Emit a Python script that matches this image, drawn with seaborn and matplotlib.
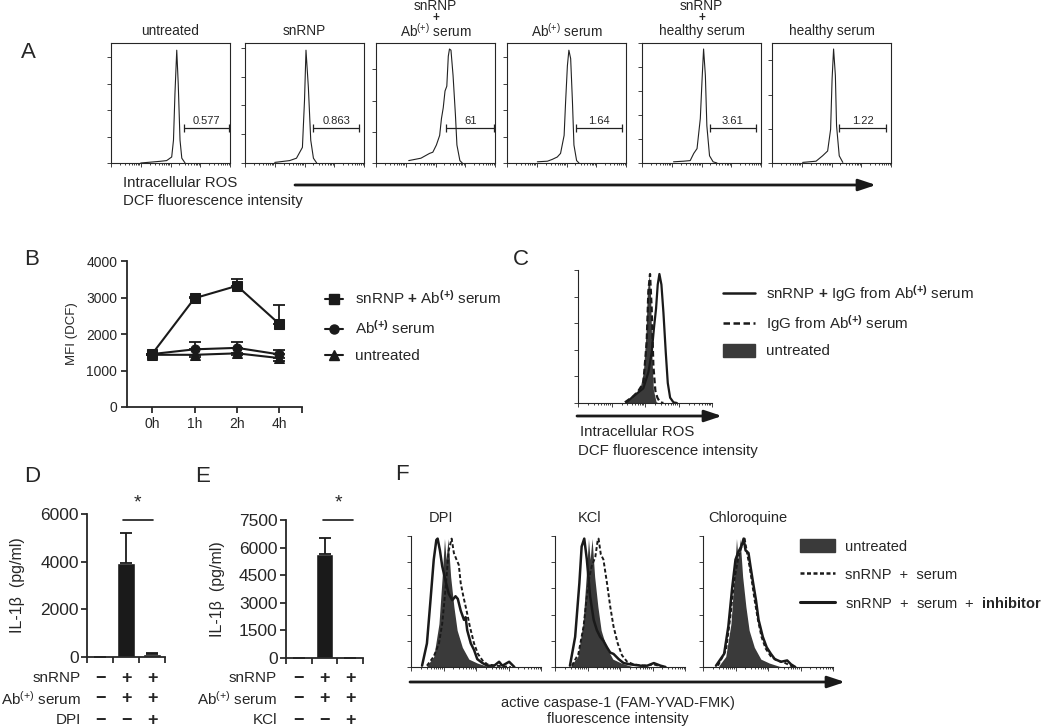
import matplotlib
matplotlib.use("Agg")
import matplotlib.pyplot as plt
import matplotlib.patches as mpatches
import matplotlib.ticker as mticker
from matplotlib.lines import Line2D
from matplotlib.transforms import blended_transform_factory
import seaborn as sns
import numpy as np

W, H = 1050, 728

# ---- A: DCF histograms (x = log decades, y = % of box height) ----
a_titles = [["untreated"], ["snRNP"], ["snRNP", "+", "Ab$^{(+)}$ serum"],
            ["Ab$^{(+)}$ serum"], ["snRNP", "+", "healthy serum"], ["healthy serum"]]
a_gate_pct = ["0.577", "0.863", "61", "1.64", "3.61", "1.22"]
a_gate_start = [2.44, 2.30, 2.35, 2.31, 2.27, 2.26]
a_gate_end = [3.95, 3.83, 3.98, 3.85, 3.82, 3.83]

a1_x = [1.0, 1.65, 1.87, 2.04, 2.10, 2.15, 2.21, 2.26, 2.32, 2.38, 2.49]
a1_y = [0, 1.4, 2, 5, 19, 58, 94, 66, 19, 4, 0]
a2_x = [1.0, 1.50, 1.73, 1.93, 2.00, 2.05, 2.13, 2.21, 2.30, 2.41]
a2_y = [0.5, 2, 4, 13, 52, 94, 63, 19, 4, 0]
a3_x = [1.10, 1.51, 1.80, 1.91, 2.03, 2.14, 2.20, 2.26, 2.32, 2.38, 2.43, 2.47, 2.52, 2.59, 2.67, 2.72, 2.82, 2.90]
a3_y = [2, 4, 8, 9, 15, 23, 37, 46, 60, 64, 89, 95, 94, 73, 40, 15, 2, 0]
a4_x = [1.02, 1.36, 1.52, 1.69, 1.80, 1.92, 1.97, 2.03, 2.08, 2.14, 2.20, 2.25, 2.34, 2.42]
a4_y = [1, 1.5, 3, 5, 8, 23, 51, 81, 94, 87, 51, 15, 2, 0]
a5_x = [1.06, 1.40, 1.62, 1.74, 1.85, 1.96, 2.02, 2.07, 2.13, 2.18, 2.27, 2.39, 2.52]
a5_y = [1, 1.5, 2, 8, 12, 37, 70, 95, 73, 31, 6, 1, 0]
a6_x = [1.03, 1.48, 1.70, 1.87, 1.97, 2.02, 2.07, 2.13, 2.17, 2.26, 2.38]
a6_y = [0.5, 1.5, 6, 10, 28, 70, 95, 73, 31, 6, 0.5]

# ---- B: MFI time course ----
b_times = ["0h", "1h", "2h", "4h"]
b_snrnp_ab = [1450, 2980, 3320, 2270]
b_snrnp_ab_err = [0, 40, 200, 520]
b_ab = [1450, 1580, 1620, 1440]
b_ab_err = [0, 200, 170, 120]
b_untreated = [1430, 1430, 1470, 1340]
b_untreated_err = [0, 60, 50, 70]

# ---- C: IgG histograms ----
c_untreated_x = [1.45, 1.60, 1.75, 1.85, 1.95, 2.03, 2.07, 2.12, 2.17, 2.21, 2.25, 2.33, 2.40]
c_untreated_y = [0.5, 4, 8, 11, 23, 53, 84, 97, 79, 33, 10, 1, 0]
c_igg_x = [1.40, 1.65, 1.80, 1.95, 2.05, 2.10, 2.15, 2.20, 2.25, 2.31, 2.37, 2.45, 2.55]
c_igg_y = [0.5, 5, 9, 15, 46, 84, 97, 71, 28, 9, 4, 0.5, 0]
c_snrnp_igg_x = [1.45, 1.65, 1.80, 1.95, 2.10, 2.20, 2.27, 2.33, 2.38, 2.43, 2.49, 2.55, 2.62, 2.68, 2.75, 2.85, 2.95]
c_snrnp_igg_y = [0.5, 5, 8, 11, 23, 38, 57, 71, 89, 97, 89, 68, 38, 15, 4, 0.5, 0]

# ---- D / E: IL-1beta ----
d_groups = ["none", "snRNP+Ab", "snRNP+Ab+DPI"]
d_il1b = [0, 3950, 120]
d_il1b_err = [0, 1250, 40]
d_rows = ["snRNP", "Ab$^{(+)}$ serum", "DPI"]
d_signs = [["−", "+", "+"], ["−", "+", "+"], ["−", "−", "+"]]
e_groups = ["none", "snRNP+Ab", "snRNP+Ab+KCl"]
e_il1b = [0, 5650, 20]
e_il1b_err = [0, 850, 0]
e_rows = ["snRNP", "Ab$^{(+)}$ serum", "KCl"]
e_signs = [["−", "+", "+"], ["−", "+", "+"], ["−", "−", "+"]]

# ---- F: caspase-1 histograms ----
f_titles = ["DPI", "KCl", "Chloroquine"]
f_untreated_x = [0.49, 0.70, 0.86, 0.96, 1.03, 1.08, 1.14, 1.22, 1.32, 1.42, 1.58, 1.78, 2.04, 2.35, 2.56]
f_untreated_y = [1, 8, 33, 69, 98, 82, 98, 69, 46, 28, 15, 6, 3, 0.5, 0]
f_dpi_serum_x = [0.49, 0.70, 0.86, 0.96, 1.06, 1.11, 1.16, 1.25, 1.32, 1.40, 1.47, 1.53, 1.61, 1.71, 1.81, 1.94, 2.06, 2.20, 2.35, 2.61, 2.87, 3.07]
f_dpi_serum_y = [1, 8, 18, 33, 59, 74, 89, 98, 87, 82, 78, 64, 54, 43, 31, 18, 10, 5, 2, 1, 0.5, 0]
f_dpi_inhib_x = [0.34, 0.49, 0.60, 0.70, 0.78, 0.82, 0.89, 0.96, 1.06, 1.16, 1.27, 1.37, 1.44, 1.53, 1.63, 1.68, 1.73, 1.84, 1.94, 2.04, 2.20, 2.35, 2.56, 2.71, 2.81, 3.02, 3.18]
f_dpi_inhib_y = [1, 18, 51, 82, 97, 98, 89, 77, 66, 56, 51, 54, 52, 43, 36, 38, 28, 18, 13, 6, 3, 1, 1, 4, 1, 4, 0]
f_kcl_serum_x = [0.52, 0.72, 0.88, 0.98, 1.06, 1.13, 1.24, 1.31, 1.34, 1.41, 1.49, 1.60, 1.70, 1.80, 1.93, 2.06, 2.22, 2.42, 2.73, 3.04, 3.25, 3.35]
f_kcl_serum_y = [1, 10, 31, 54, 69, 77, 84, 96, 98, 86, 82, 64, 46, 31, 18, 9, 4, 2, 1, 2, 0.5, 0]
f_kcl_inhib_x = [0.46, 0.62, 0.75, 0.82, 0.90, 0.98, 1.08, 1.19, 1.29, 1.39, 1.49, 1.60, 1.70, 1.80, 1.96, 2.11, 2.32, 2.63, 2.84, 3.04, 3.25, 3.40]
f_kcl_inhib_y = [1, 23, 64, 92, 98, 82, 54, 36, 28, 23, 20, 15, 11, 10, 6, 3, 2, 1, 1, 3, 1, 0]
f_chl_serum_x = [0.46, 0.71, 0.84, 0.96, 1.09, 1.19, 1.28, 1.35, 1.43, 1.50, 1.59, 1.69, 1.80, 1.93, 2.09, 2.28, 2.53, 2.78]
f_chl_serum_y = [1, 13, 38, 66, 84, 92, 98, 88, 77, 66, 51, 36, 23, 14, 8, 5, 3, 0]
f_chl_inhib_x = [0.40, 0.65, 0.78, 0.90, 1.00, 1.09, 1.18, 1.25, 1.31, 1.40, 1.46, 1.53, 1.63, 1.71, 1.84, 1.96, 2.09, 2.21, 2.40, 2.59, 2.71, 2.84]
f_chl_inhib_y = [1, 10, 31, 61, 82, 88, 92, 98, 89, 87, 77, 66, 51, 36, 23, 15, 10, 6, 4, 5, 2, 0]

sns.set_theme(style="ticks")
plt.rcParams["font.family"] = ["Liberation Sans", "DejaVu Sans"]
plt.rcParams["mathtext.fontset"] = "custom"
plt.rcParams["mathtext.rm"] = "Liberation Sans"
plt.rcParams["mathtext.bf"] = "Liberation Sans:bold"
plt.rcParams["mathtext.it"] = "Liberation Sans:italic"

fig = plt.figure(figsize=(W / 100, H / 100), dpi=100)
DARK = "#3a3a3a"


def rect(x0, y0, x1, y1):
    return [x0 / W, 1 - y1 / H, (x1 - x0) / W, (y1 - y0) / H]


def ftext(x, y, s, **kw):
    kw.setdefault("ha", "center")
    kw.setdefault("va", "center")
    fig.text(x / W, 1 - y / H, s, **kw)


def arrow(x0, x1, y):
    fig.add_artist(mpatches.FancyArrowPatch(
        (x0 / W, 1 - y / H), (x1 / W, 1 - y / H), transform=fig.transFigure,
        arrowstyle="-|>,head_length=0.75,head_width=0.25", mutation_scale=14,
        lw=2.0, color="k", shrinkA=0, shrinkB=0))


log_minor = [d + np.log10(k) for d in range(4) for k in range(2, 10)]


def flow_axes(ax, ystep, box):
    ax.set_xlim(0, 4)
    ax.set_ylim(0, 100)
    ax.xaxis.set_major_locator(mticker.FixedLocator(range(5)))
    ax.xaxis.set_minor_locator(mticker.FixedLocator(log_minor))
    ax.yaxis.set_major_locator(mticker.MultipleLocator(ystep))
    ax.tick_params(which="both", direction="out", width=0.6, color="#222",
                   labelbottom=False, labelleft=False)
    ax.tick_params(which="major", length=3)
    ax.tick_params(which="minor", length=1.6)
    ax.set_xlabel("")
    ax.set_ylabel("")
    for s in ax.spines.values():
        s.set_linewidth(0.8)
    if not box:
        ax.spines[["top", "right"]].set_visible(False)


# ================= A =================
a_lefts = [111, 245, 376, 507, 642, 772]
a_steps = [22, 24, 26, 22, 20, 28.5]
a_xs = [a1_x, a2_x, a3_x, a4_x, a5_x, a6_x]
a_ys = [a1_y, a2_y, a3_y, a4_y, a5_y, a6_y]
for i, left in enumerate(a_lefts):
    ax = fig.add_axes(rect(left, 43, left + 119, 163))
    sns.lineplot(x=a_xs[i], y=a_ys[i], ax=ax, color="#222", lw=0.8, sort=False, estimator=None)
    ax.plot([a_gate_start[i], a_gate_end[i]], [29, 29], color="#222", lw=0.9)
    ax.plot([a_gate_start[i], a_gate_end[i]], [29, 29], ls="none", marker="|", ms=6, mew=0.9, color="#222")
    ax.text((a_gate_start[i] + a_gate_end[i]) / 2, 31, a_gate_pct[i], ha="center", va="bottom", fontsize=8)
    flow_axes(ax, a_steps[i], True)
    cx = left + 59.5
    lines = a_titles[i]
    if len(lines) == 1:
        ftext(cx, 31, lines[0], fontsize=9.8)
    else:
        ftext(cx, 5.5, lines[0], fontsize=9.8)
        ftext(cx, 17.5, lines[1], fontsize=8.5, fontweight="bold")
        ftext(cx, 31, lines[2], fontsize=9.8)

ftext(28, 53, "A", fontsize=16)
ftext(123, 183, "Intracellular ROS", ha="left", fontsize=10.8)
ftext(123, 201, "DCF fluorescence intensity", ha="left", fontsize=10.8)
arrow(295, 876, 185)

# ================= B =================
ax = fig.add_axes(rect(127, 261, 302, 407))
pos = np.arange(len(b_times))
b_series = [(b_snrnp_ab, b_snrnp_ab_err, "s", 7, 1), (b_ab, b_ab_err, "o", 6.5, 1), (b_untreated, b_untreated_err, "^", 6.5, -1)]
for vals, err, mk, ms, sign in b_series:
    zeros = [0] * len(err)
    yerr = [zeros, err] if sign > 0 else [err, zeros]
    ax.errorbar(pos, vals, yerr=yerr, fmt="none", ecolor="k", elinewidth=1.3, capsize=4, capthick=1.3, zorder=2)
    sns.lineplot(x=pos, y=vals, ax=ax, color="k", lw=1.5, marker=mk, markersize=ms,
                 markeredgecolor="k", zorder=3)
ax.set_xlim(-0.59, 3.53)
ax.set_ylim(0, 4000)
ax.set_xticks(pos)
ax.set_xticklabels(b_times)
ax.xaxis.set_minor_locator(mticker.FixedLocator([3.53]))
ax.set_yticks([0, 1000, 2000, 3000, 4000])
ax.tick_params(which="both", direction="out", length=4, width=1.2, labelsize=10, pad=3, color="k")
sns.despine(ax=ax)
for s in ["left", "bottom"]:
    ax.spines[s].set_linewidth(1.3)
ax.set_xlabel("")
ax.set_ylabel("MFI (DCF)", fontsize=9.5, labelpad=6)

b_handles = [Line2D([], [], color="k", lw=1.5, marker="s", ms=7),
             Line2D([], [], color="k", lw=1.5, marker="o", ms=6.5),
             Line2D([], [], color="k", lw=1.5, marker="^", ms=6.5)]
b_labels = [r"snRNP $\mathbf{+}$ Ab$^{\mathbf{(+)}}$ serum", r"Ab$^{\mathbf{(+)}}$ serum", "untreated"]
fig.legend(b_handles, b_labels, loc="upper left", bbox_to_anchor=(325 / W, 1 - 289 / H),
           frameon=False, fontsize=11, handlelength=1.2, handletextpad=0.75,
           labelspacing=0.8, borderpad=0, borderaxespad=0)
ftext(32, 259, "B", fontsize=16)

# ================= C =================
ax = fig.add_axes(rect(578, 270, 712, 403))
ax.fill_between(c_untreated_x, c_untreated_y, color=DARK, lw=0)
sns.lineplot(x=c_igg_x, y=c_igg_y, ax=ax, color="k", lw=1.6, sort=False, estimator=None, dashes=False)
ax.lines[-1].set_dashes((2.6, 1.4))
sns.lineplot(x=c_snrnp_igg_x, y=c_snrnp_igg_y, ax=ax, color="k", lw=1.6, sort=False, estimator=None)
flow_axes(ax, 20, False)
arrow(577, 722, 416)
ftext(580, 432, "Intracellular ROS", ha="left", fontsize=10.8)
ftext(578, 451, "DCF fluorescence intensity", ha="left", fontsize=10.8)
c_handles = [Line2D([], [], color="k", lw=1.8),
             Line2D([], [], color="k", lw=1.8, dashes=(2.6, 1.4)),
             mpatches.Patch(color=DARK)]
c_labels = [r"snRNP $\mathbf{+}$ IgG from Ab$^{\mathbf{(+)}}$ serum", r"IgG from Ab$^{\mathbf{(+)}}$ serum", "untreated"]
fig.legend(c_handles, c_labels, loc="upper left", bbox_to_anchor=(723 / W, 1 - 283 / H),
           frameon=False, fontsize=10.9, handlelength=2.1, handleheight=0.95, handletextpad=0.75,
           labelspacing=0.62, borderpad=0, borderaxespad=0)
ftext(521, 259, "C", fontsize=16)


# ================= D / E =================
def il1b_panel(rc, groups, vals, errs, ticks, rows, signs, label_x, sig_x):
    ax = fig.add_axes(rect(*rc))
    sns.barplot(x=groups, y=vals, ax=ax, color="k", saturation=1, width=0.7, errorbar=None)
    n = len(groups)
    ax.errorbar(range(n), vals, yerr=[[0] * n, errs], fmt="none", ecolor="k",
                elinewidth=1.3, capsize=4, capthick=1.3)
    ax.set_xlim(-0.5, n - 0.5)
    ax.set_ylim(0, ticks[-1])
    ax.set_yticks(ticks)
    ax.set_xticks([k - 0.5 for k in range(n + 1)])
    ax.set_xticklabels([])
    ax.tick_params(direction="out", length=4, width=1.2, labelsize=12.5, pad=2, color="k")
    sns.despine(ax=ax)
    for s in ["left", "bottom"]:
        ax.spines[s].set_linewidth(1.3)
    ax.set_xlabel("")
    ax.set_ylabel("IL-1β  (pg/ml)", fontsize=11.5)
    ax.yaxis.set_label_coords(-0.79, 0.5)
    tr = blended_transform_factory(ax.transData, fig.transFigure)
    for r, (name, row) in enumerate(zip(rows, signs)):
        yy = 1 - (678 + 21 * r) / H
        fig.text(label_x / W, yy, name, ha="right", va="center", fontsize=11)
        for k, s in enumerate(row):
            ax.text(k, yy, s, transform=tr, ha="center", va="center", fontsize=13,
                    fontweight="bold", clip_on=False)
    ax.plot(sig_x, [1 - 520 / H] * 2, transform=tr, color="k", lw=1.2, clip_on=False)
    ax.text(np.mean(sig_x), 1 - 503 / H, "*", transform=tr, ha="center", va="center", fontsize=14)


il1b_panel((87, 514, 165, 657), d_groups, d_il1b, d_il1b_err, [0, 2000, 4000, 6000],
           d_rows, d_signs, 81, [0.88, 2.02])
il1b_panel((286, 520, 363, 658), e_groups, e_il1b, e_il1b_err, [0, 1500, 3000, 4500, 6000, 7500],
           e_rows, e_signs, 277, [0.96, 2.1])
ftext(32, 476, "D", fontsize=16)
ftext(203, 476, "E", fontsize=16)

# ================= F =================
f_lefts = [411, 555, 703]
f_title_x = [441, 590, 748]
f_serum = [(f_dpi_serum_x, f_dpi_serum_y), (f_kcl_serum_x, f_kcl_serum_y), (f_chl_serum_x, f_chl_serum_y)]
f_inhib = [(f_dpi_inhib_x, f_dpi_inhib_y), (f_kcl_inhib_x, f_kcl_inhib_y), (f_chl_inhib_x, f_chl_inhib_y)]
for i, left in enumerate(f_lefts):
    ax = fig.add_axes(rect(left, 536, left + 130, 667))
    ax.fill_between(f_untreated_x, f_untreated_y, color=DARK, lw=0)
    sx, sy = f_serum[i]
    sns.lineplot(x=sx, y=sy, ax=ax, color="k", lw=1.4, sort=False, estimator=None)
    ax.lines[-1].set_dashes((2, 1.2))
    ix, iy = f_inhib[i]
    sns.lineplot(x=ix, y=iy, ax=ax, color="k", lw=1.8, sort=False, estimator=None)
    flow_axes(ax, 20, False)
    ftext(f_title_x[i], 518, f_titles[i], fontsize=10.5)

arrow(410, 845, 682)
ftext(618, 703, "active caspase-1 (FAM-YVAD-FMK)", fontsize=10.5)
ftext(618, 719, "fluorescence intensity", fontsize=10.5)
f_handles = [mpatches.Patch(color=DARK),
             Line2D([], [], color="k", lw=1.8, dashes=(1.6, 1.0)),
             Line2D([], [], color="k", lw=2.2)]
f_labels = ["untreated", r"snRNP  +  serum", r"snRNP  +  serum  +  $\mathbf{inhibitor}$"]
fig.legend(f_handles, f_labels, loc="upper left", bbox_to_anchor=(800 / W, 1 - 539 / H),
           frameon=False, fontsize=10.5, handlelength=2.4, handleheight=1.0, handletextpad=0.7,
           labelspacing=0.95, borderpad=0, borderaxespad=0)
ftext(402, 474, "F", fontsize=16)

fig.savefig("out.png", dpi=100)
